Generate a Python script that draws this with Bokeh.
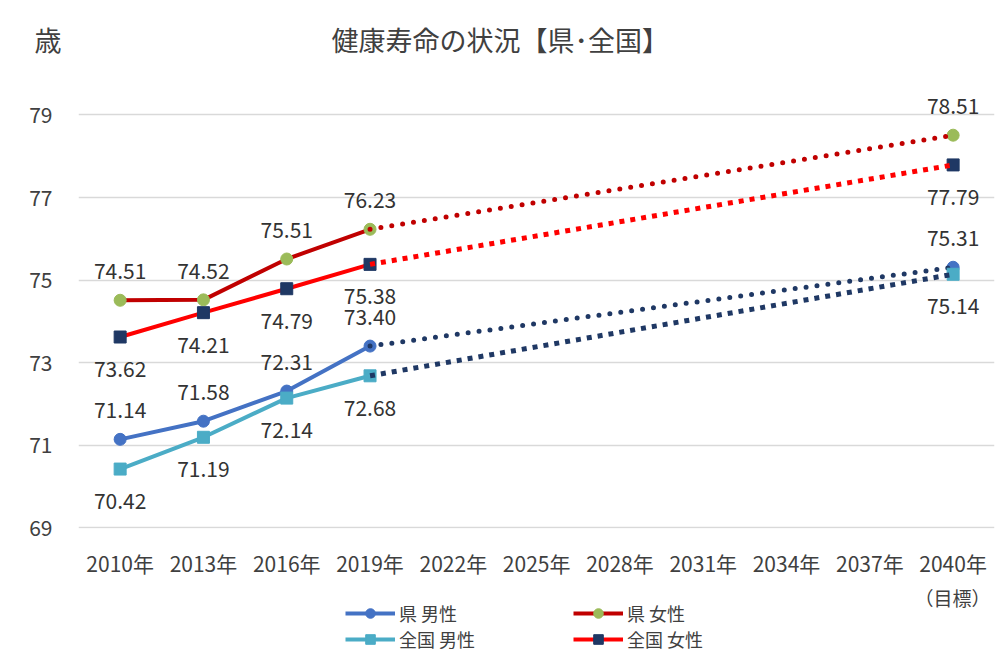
from bokeh.plotting import figure
from bokeh.models import Range1d, FixedTicker, Legend, LegendItem, Label
from bokeh.layouts import column
from bokeh.embed import file_html
from bokeh.resources import INLINE
from bokeh.core.properties import value

# ---- data ----
tick_years = [2010, 2013, 2016, 2019, 2022, 2025, 2028, 2031, 2034, 2037, 2040]
tick_labels = ["2010年", "2013年", "2016年", "2019年", "2022年", "2025年",
               "2028年", "2031年", "2034年", "2037年", "2040年"]
target_note = "（目標）"
y_ticks = [69, 71, 73, 75, 77, 79]
obs_years = [2010, 2013, 2016, 2019]
target_year = 2040

pref_male = [71.14, 71.58, 72.31, 73.40]
pref_male_target = 75.31
nat_male = [70.42, 71.19, 72.14, 72.68]
nat_male_target = 75.14
pref_female = [74.51, 74.52, 75.51, 76.23]
pref_female_target = 78.51
nat_female = [73.62, 74.21, 74.79, 75.38]
nat_female_target = 77.79

unit_label = "歳"
title_text = "健康寿命の状況【県･全国】"

FONT = "Noto Sans CJK JP"
W = 996

p = figure(width=W, height=580, output_backend="svg", toolbar_location=None,
           x_range=Range1d(2008.5, 2041.49), y_range=Range1d(68.98, 80.32),
           min_border_left=78, min_border_right=2, min_border_top=60, min_border_bottom=48)
p.outline_line_color = None
p.xgrid.grid_line_color = None
p.ygrid.grid_line_color = "#d9d9d9"
p.ygrid.grid_line_width = 1.3
p.yaxis.ticker = FixedTicker(ticks=y_ticks)
p.xaxis.ticker = FixedTicker(ticks=tick_years)
p.xaxis.major_label_overrides = {y: l for y, l in zip(tick_years, tick_labels)}
for ax in (p.xaxis, p.yaxis):
    ax.axis_line_color = None
    ax.major_tick_line_color = None
    ax.minor_tick_line_color = None
    ax.major_label_text_font = FONT
    ax.major_label_text_color = "#404040"
p.xaxis.major_label_text_font_size = "21px"
p.yaxis.major_label_text_font_size = "21px"
p.xaxis.major_label_standoff = 13
p.yaxis.major_label_standoff = 20

p.title.text = unit_label + "\u3000" * 10 + title_text
p.title.align = "left"
p.title.offset = -44
p.title.text_font = FONT
p.title.text_font_size = "27px"
p.title.text_font_style = "normal"
p.title.text_color = "#404040"
p.title.standoff = 3

series = [
    ("県 男性", pref_male, pref_male_target, "#4472C4", "circle", "#4472C4", "#1F3864", "round", -29),
    ("全国 男性", nat_male, nat_male_target, "#4BACC6", "square", "#4BACC6", "#1F3864", "square", 32),
    ("県 女性", pref_female, pref_female_target, "#C00000", "circle", "#9BBB59", "#C00000", "round", -29),
    ("全国 女性", nat_female, nat_female_target, "#FF0000", "square", "#1F3864", "#FF0000", "square", 32),
]

# legend strip (separate figure below the chart; its frame is aligned with the chart's)
q = figure(width=W, height=86, output_backend="svg", toolbar_location=None,
           x_range=Range1d(78, 994), y_range=Range1d(0, 86),
           x_axis_type=None, y_axis_type=None, min_border=0)
q.outline_line_color = None
q.xgrid.grid_line_color = None
q.ygrid.grid_line_color = None

items = {}
for name, vals, tgt, lc, mk, mc, dc, dot, yoff in series:
    p.line(obs_years, vals, line_width=4, line_color=lc, line_join="round")
    xs = obs_years + [target_year]
    ys = vals + [tgt]
    p.scatter(xs, ys, marker=mk, size=12, fill_color=mc, line_color=mc)
    if dot == "round":
        p.line([obs_years[-1], target_year], [vals[-1], tgt], line_width=5, line_color=dc,
               line_dash="0 11", line_cap="round")
    else:
        p.line([obs_years[-1], target_year], [vals[-1], tgt], line_width=5, line_color=dc,
               line_dash="5 6", line_cap="butt")
    p.text(xs, ys, text=[f"{v:.2f}" for v in ys], y_offset=yoff,
           text_align="center", text_baseline="middle", text_font=value(FONT),
           text_font_size="21px", text_color="#333333")
    # legend proxies: same series, out of this strip's visible range, so only the swatch shows
    lr = q.line(obs_years, vals, line_width=4, line_color=lc)
    sr = q.scatter(obs_years, vals, marker=mk, size=12, fill_color=mc, line_color=mc)
    items[name] = LegendItem(label=name, renderers=[lr, sr])

legend = Legend(items=[items["県 男性"], items["全国 男性"], items["県 女性"], items["全国 女性"]],
                location=(267, 14), ncols=2, orientation="vertical",
                glyph_width=50, glyph_height=24, label_height=24, label_width=174,
                label_standoff=4, spacing=0, padding=0, margin=0,
                border_line_color=None, background_fill_alpha=0,
                label_text_font=FONT, label_text_font_size="18px", label_text_color="#404040")
q.add_layout(legend)
q.add_layout(Label(x=952, y=69, text=target_note, text_align="center",
                   text_baseline="middle", text_font=FONT, text_font_size="19px",
                   text_color="#404040"))

open("out.html", "w").write(file_html(column(p, q, spacing=0), INLINE))
